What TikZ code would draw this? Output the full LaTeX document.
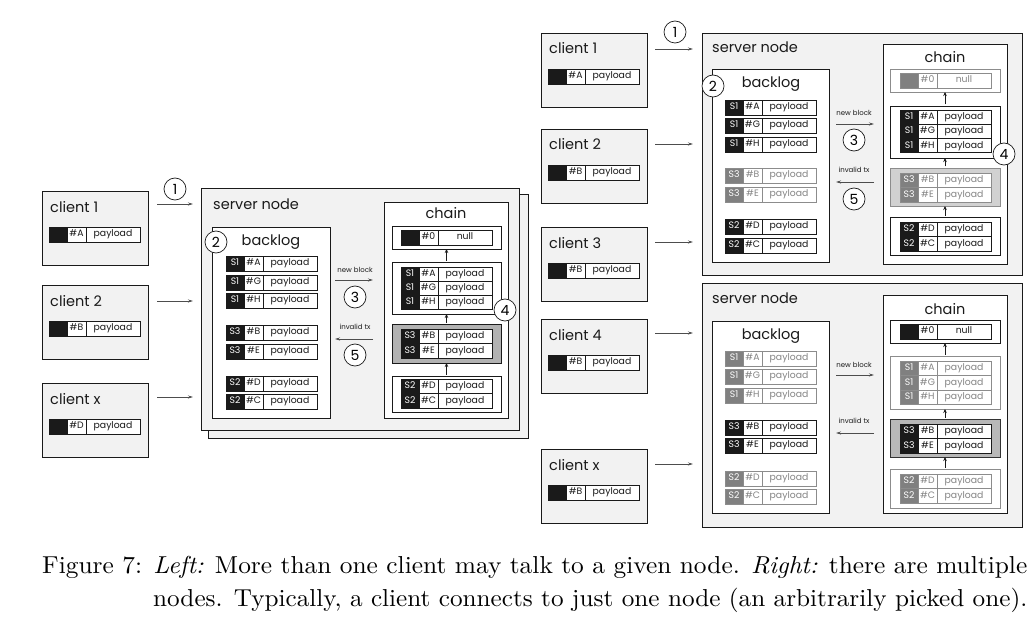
\documentclass[tikz,border=0pt]{standalone}
\usepackage{fontspec}
\usepackage{graphicx}
\usetikzlibrary{arrows.meta,calc}
\newfontfamily\dsans{Poppins}
\definecolor{bgg}{HTML}{F2F2F2}
\definecolor{Sk}{HTML}{1A1A1A}
\definecolor{Dk}{HTML}{1A1A1A}
\definecolor{Tk}{HTML}{1A1A1A}
\definecolor{Sg}{HTML}{808080}
\definecolor{Dg}{HTML}{8C8C8C}
\definecolor{Tg}{HTML}{858585}
\definecolor{arrc}{HTML}{4D4D4D}
\def\rh{15}
\newcommand\lblfont{\dsans\fontsize{14.5}{16}\selectfont}
\newcommand\rfont{\dsans\fontsize{9.3}{10}\selectfont}
\newcommand\smfont{\dsans\fontsize{7}{8}\selectfont}
\tikzset{
  cellbase/.style={rectangle,inner sep=0,outer sep=0,minimum height=\rh,line width=0.9,font=\rfont,text height=6.6,text depth=1.9},
  scell/.style={cellbase,fill=S#1,draw=D#1,text=white},
  icell/.style={cellbase,fill=white,draw=D#1,text=T#1},
  srv/.style={draw=Dk,fill=bgg,line width=0.9,inner sep=0,outer sep=0,anchor=north west},
  wbox/.style={draw=Dk,fill=white,line width=0.9,inner sep=0,outer sep=0,anchor=north west},
  blkk/.style={draw=Dk,fill=white,line width=0.9,inner sep=0,outer sep=0,anchor=north west},
  blkg/.style={draw=Dg,fill=white,line width=0.9,inner sep=0,outer sep=0,anchor=north west},
  blkL/.style={draw=Dk,fill=black!30,line width=0.9,inner sep=0,outer sep=0,anchor=north west},
  blkT/.style={draw=black!45,fill=black!18,line width=0.9,inner sep=0,outer sep=0,anchor=north west},
  blkB/.style={draw=black!80,fill=black!28,line width=0.9,inner sep=0,outer sep=0,anchor=north west},
  lbl/.style={inner sep=0,font=\lblfont,text=Tk},
  sml/.style={inner sep=0,font=\smfont,text=Tk,anchor=base},
  circ/.style={circle,draw=Tk,line width=0.7,fill=white,minimum size=22,inner sep=0,font=\dsans\fontsize{14}{14}\selectfont},
  carr/.style={draw=arrc,line width=0.8,-{Stealth[length=5,width=3]}},
  uarr/.style={draw=Tk,line width=0.7,shorten <=1.5,-{Stealth[length=4,width=3.5]}},
}
% name, position, S text, id, payload, mode
\newcommand\rec[6]{%
  \node[scell=#6,minimum width=18,anchor=north west] (#1s) at (#2) {#3};
  \node[icell=#6,minimum width=19,anchor=north west] (#1i) at (#1s.north east) {#4};
  \node[icell=#6,minimum width=54,anchor=north west] (#1p) at (#1i.north east) {#5};}
% name, x, y, label, id
\newcommand\client[5]{%
  \node[srv,minimum width=106,minimum height=74] (#1) at (#2,#3) {};
  \node[lbl,anchor=base west] (#1t) at ($(#1.north west)+(8,21)$) {#4};
  \rec{#1r}{$(#1.north west)+(7,36)$}{}{#5}{payload}{k}}
\begin{document}
\begin{tikzpicture}[x=1pt,y=-1pt]
\useasboundingbox (0,0) rectangle (1035,631);
\fill[white] (0,0) rectangle (1035,631);

%% ================= LEFT =================
\client{lc1}{42}{191}{client 1}{\#A}
\client{lc2}{42}{285}{client 2}{\#B}
\client{lcx}{42}{383}{client x}{\#D}

\node[srv,minimum width=320,minimum height=244] (LSb) at (208,194) {};
\node[srv,minimum width=318,minimum height=242] (LS) at (201,188) {};
\node[lbl,anchor=base west] (LSt) at (213,209) {server node};

\node[wbox,minimum width=118,minimum height=191] (LB) at (212,227) {};
\node[lbl,anchor=base] (LBt) at (271,245) {backlog};
\rec{lb1}{226,256}{S1}{\#A}{payload}{k}
\rec{lb2}{226,275}{S1}{\#G}{payload}{k}
\rec{lb3}{226,293}{S1}{\#H}{payload}{k}
\rec{lb4}{226,325}{S3}{\#B}{payload}{k}
\rec{lb5}{226,344}{S3}{\#E}{payload}{k}
\rec{lb6}{226,376}{S2}{\#D}{payload}{k}
\rec{lb7}{226,394}{S2}{\#C}{payload}{k}

\node[wbox,minimum width=124,minimum height=216] (LC) at (384,202) {};
\node[lbl,anchor=base] (LCt) at (446,218) {chain};
\node[blkk,minimum width=109,minimum height=23] (L0) at (392,226) {};
\node[blkk,minimum width=109,minimum height=52] (L1) at (392,262) {};
\node[blkL,minimum width=109,minimum height=39] (L2) at (392,324) {};
\node[blkk,minimum width=109,minimum height=36] (L3) at (392,376) {};
\rec{lc0}{401,230}{}{\#0}{null}{k}
\def\rh{14.2}
\rec{lc11}{401,267}{S1}{\#A}{payload}{k}
\rec{lc12}{401,281.2}{S1}{\#G}{payload}{k}
\rec{lc13}{401,295.4}{S1}{\#H}{payload}{k}
\def\rh{14.8}
\rec{lc21}{401,329}{S3}{\#B}{payload}{k}
\rec{lc22}{401,343.8}{S3}{\#E}{payload}{k}
\def\rh{14.5}
\rec{lc31}{401,379}{S2}{\#D}{payload}{k}
\rec{lc32}{401,393.5}{S2}{\#C}{payload}{k}
\def\rh{15}
\draw[uarr] (L1.north) -- (L0.south);
\draw[uarr] (L2.north) -- (L1.south);
\draw[uarr] (L3.north) -- (L2.south);

\node[sml] (Lnbt) at (355,272) {new block};
\coordinate (Lnb1) at (335,280); \coordinate (Lnb2) at (373,280);
\draw[carr] (Lnb1) -- (Lnb2);
\node[sml] (Livt) at (355,329) {invalid tx};
\coordinate (Liv1) at (373,339); \coordinate (Liv2) at (335,339);
\draw[carr] (Liv1) -- (Liv2);

\coordinate (la1s) at (157,204); \coordinate (la1e) at (193,204);
\coordinate (la2s) at (157,301); \coordinate (la2e) at (193,301);
\coordinate (la3s) at (157,397); \coordinate (la3e) at (193,397);
\draw[carr] (la1s) -- (la1e);
\draw[carr] (la2s) -- (la2e);
\draw[carr] (la3s) -- (la3e);

\node[circ] (Lk1) at (175,189) {1};
\node[circ] (Lk2) at (216,242) {2};
\node[circ] (Lk3) at (355,297) {3};
\node[circ] (Lk4) at (505,310) {4};
\node[circ] (Lk5) at (355,355) {5};

%% ================= RIGHT =================
\client{rc1}{541}{33}{client 1}{\#A}
\client{rc2}{541}{129}{client 2}{\#B}
\client{rc3}{541}{227}{client 3}{\#B}
\client{rc4}{541}{319}{client 4}{\#B}
\client{rcx}{541}{449}{client x}{\#B}

\coordinate (ra1s) at (655,49);  \coordinate (ra1e) at (693,49);
\coordinate (ra2s) at (655,144); \coordinate (ra2e) at (693,144);
\coordinate (ra3s) at (655,242); \coordinate (ra3e) at (693,242);
\coordinate (ra4s) at (655,333); \coordinate (ra4e) at (693,333);
\coordinate (ra5s) at (655,464); \coordinate (ra5e) at (693,464);
\draw[carr] (ra1s) -- (ra1e);
\draw[carr] (ra2s) -- (ra2e);
\draw[carr] (ra3s) -- (ra3e);
\draw[carr] (ra4s) -- (ra4e);
\draw[carr] (ra5s) -- (ra5e);

% ---- top server
\node[srv,minimum width=320,minimum height=242] (TS) at (702,33) {};
\node[lbl,anchor=base west] (TSt) at (712,53) {server node};
\node[wbox,minimum width=117,minimum height=193] (TB) at (712,69) {};
\node[lbl,anchor=base] (TBt) at (771,88) {backlog};
\rec{tb1}{725,100}{S1}{\#A}{payload}{k}
\rec{tb2}{725,118}{S1}{\#G}{payload}{k}
\rec{tb3}{725,137}{S1}{\#H}{payload}{k}
\rec{tb4}{725,168}{S3}{\#B}{payload}{g}
\rec{tb5}{725,187}{S3}{\#E}{payload}{g}
\rec{tb6}{725,219}{S2}{\#D}{payload}{k}
\rec{tb7}{725,238}{S2}{\#C}{payload}{k}

\node[wbox,minimum width=124,minimum height=220] (TC) at (883,44) {};
\node[lbl,anchor=base] (TCt) at (945,63) {chain};
\node[blkg,minimum width=110,minimum height=23] (T0) at (890,69) {};
\node[blkk,minimum width=110,minimum height=52] (T1) at (890,106) {};
\node[blkT,minimum width=110,minimum height=38] (T2) at (890,168) {};
\node[blkk,minimum width=110,minimum height=38] (T3) at (890,217) {};
\rec{tc0}{900,73}{}{\#0}{null}{g}
\def\rh{14.3}
\rec{tc11}{900,110}{S1}{\#A}{payload}{k}
\rec{tc12}{900,124.3}{S1}{\#G}{payload}{k}
\rec{tc13}{900,138.6}{S1}{\#H}{payload}{k}
\def\rh{14.5}
\rec{tc21}{900,173}{S3}{\#B}{payload}{g}
\rec{tc22}{900,187.5}{S3}{\#E}{payload}{g}
\rec{tc31}{900,222}{S2}{\#D}{payload}{k}
\rec{tc32}{900,236.5}{S2}{\#C}{payload}{k}
\def\rh{15}
\draw[uarr] (T1.north) -- (T0.south);
\draw[uarr] (T2.north) -- (T1.south);
\draw[uarr] (T3.north) -- (T2.south);

\node[sml] (Tnbt) at (854,116) {new block};
\coordinate (Tnb1) at (836,124); \coordinate (Tnb2) at (874,124);
\draw[carr] (Tnb1) -- (Tnb2);
\node[sml] (Tivt) at (854,173) {invalid tx};
\coordinate (Tiv1) at (874,182); \coordinate (Tiv2) at (836,182);
\draw[carr] (Tiv1) -- (Tiv2);

\node[circ] (Rk1) at (675,32) {1};
\node[circ] (Rk2) at (713,86) {2};
\node[circ] (Rk3) at (854,140) {3};
\node[circ] (Rk4) at (1004,154) {4};
\node[circ] (Rk5) at (854,199) {5};

% ---- bottom server
\node[srv,minimum width=320,minimum height=244] (BS) at (702,283) {};
\node[lbl,anchor=base west] (BSt) at (712,303) {server node};
\node[wbox,minimum width=117,minimum height=192] (BB) at (712,321) {};
\node[lbl,anchor=base] (BBt) at (771,339) {backlog};
\rec{bb1}{725,351}{S1}{\#A}{payload}{g}
\rec{bb2}{725,369}{S1}{\#G}{payload}{g}
\rec{bb3}{725,388}{S1}{\#H}{payload}{g}
\rec{bb4}{725,420}{S3}{\#B}{payload}{k}
\rec{bb5}{725,438}{S3}{\#E}{payload}{k}
\rec{bb6}{725,471}{S2}{\#D}{payload}{g}
\rec{bb7}{725,489}{S2}{\#C}{payload}{g}

\node[wbox,minimum width=124,minimum height=218] (BC) at (883,295) {};
\node[lbl,anchor=base] (BCt) at (945,314) {chain};
\node[blkk,minimum width=110,minimum height=23] (B0) at (890,320) {};
\node[blkg,minimum width=110,minimum height=53] (B1) at (890,356) {};
\node[blkB,minimum width=110,minimum height=38] (B2) at (890,419) {};
\node[blkg,minimum width=110,minimum height=39] (B3) at (890,469) {};
\rec{bc0}{900,324}{}{\#0}{null}{k}
\def\rh{14.5}
\rec{bc11}{900,361}{S1}{\#A}{payload}{g}
\rec{bc12}{900,375.5}{S1}{\#G}{payload}{g}
\rec{bc13}{900,390}{S1}{\#H}{payload}{g}
\rec{bc21}{900,424}{S3}{\#B}{payload}{k}
\rec{bc22}{900,438.5}{S3}{\#E}{payload}{k}
\rec{bc31}{900,474}{S2}{\#D}{payload}{g}
\rec{bc32}{900,488.5}{S2}{\#C}{payload}{g}
\def\rh{15}
\draw[uarr] (B1.north) -- (B0.south);
\draw[uarr] (B2.north) -- (B1.south);
\draw[uarr] (B3.north) -- (B2.south);

\node[sml] (Bnbt) at (854,367) {new block};
\coordinate (Bnb1) at (836,375); \coordinate (Bnb2) at (874,375);
\draw[carr] (Bnb1) -- (Bnb2);
\node[sml] (Bivt) at (854,423) {invalid tx};
\coordinate (Biv1) at (874,433); \coordinate (Biv2) at (836,433);
\draw[carr] (Biv1) -- (Biv2);

%% ================= CAPTION =================
\node[anchor=base west,inner sep=0] (cap1) at (42,573)
  {\resizebox{985pt}{2.45\height}{Figure 7: \textit{Left:} More than one client may talk to a given node. \textit{Right:} there are multiple}};
\node[anchor=base west,inner sep=0] (cap2) at (153,606)
  {\resizebox*{874pt}{2.45\totalheight}{nodes. Typically, a client connects to just one node (an arbitrarily picked one).}};
\end{tikzpicture}
\end{document}
